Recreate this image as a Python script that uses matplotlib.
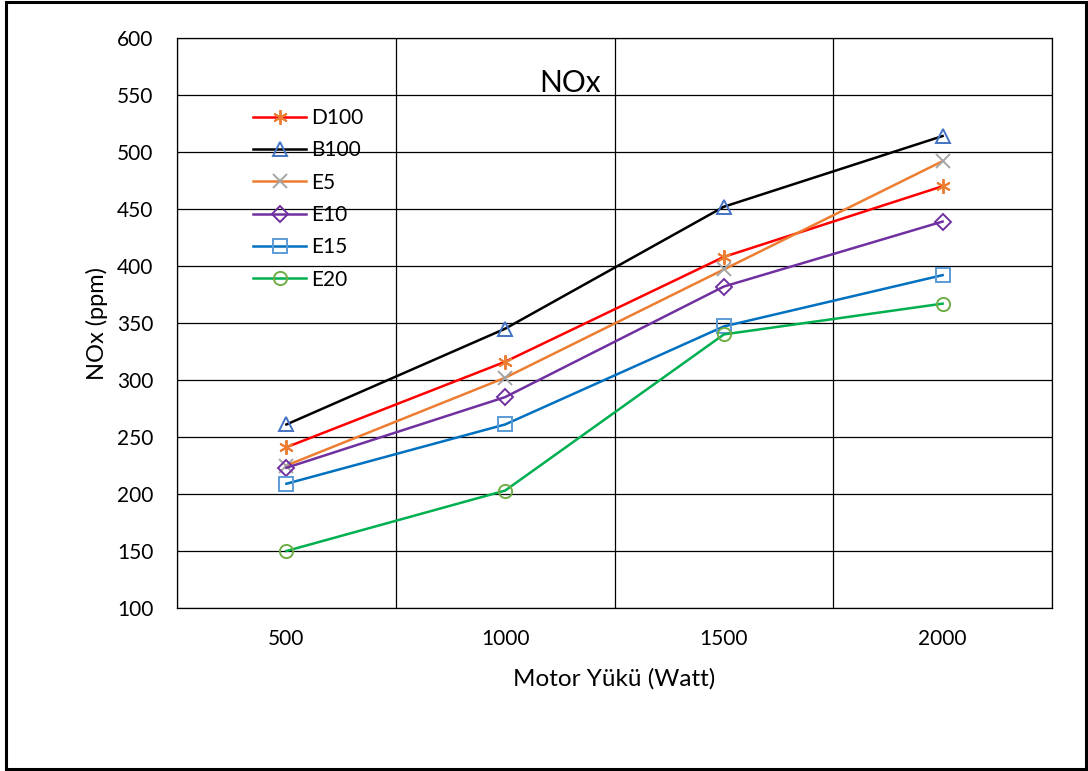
import matplotlib
matplotlib.use("Agg")
import matplotlib.pyplot as plt
from matplotlib.patches import Rectangle

plt.rcParams['font.family'] = ['Lato', 'DejaVu Sans']

loads = ["500", "1000", "1500", "2000"]
d100 = [241, 316, 408, 470]
b100 = [261, 345, 452, 514]
e5 = [225, 302, 397, 492]
e10 = [223, 285, 382, 439]
e15 = [209, 261, 347, 392]
e20 = [150, 203, 340, 367]
yticks = [100, 150, 200, 250, 300, 350, 400, 450, 500, 550, 600]

series = [
    ("D100", d100, "#FF0000", (6, 2, 0), "#ED7D31"),
    ("B100", b100, "#000000", "^", "#4472C4"),
    ("E5", e5, "#ED7D31", "x", "#A5A5A5"),
    ("E10", e10, "#7030A0", "D", "#7030A0"),
    ("E15", e15, "#0070C0", "s", "#5B9BD5"),
    ("E20", e20, "#00B050", "o", "#70AD47"),
]

fig = plt.figure(figsize=(10.88, 7.71), dpi=100)
ax = fig.add_axes([0.1627, 0.2114, 0.8042, 0.7393])

x = list(range(len(loads)))
for name, vals, lc, mk, mc in series:
    ms = 9.5
    if mk == "D":
        ms = 8
    if mk == "x" or mk == (6, 2, 0):
        ms = 10.5
    ax.plot(x, vals, color=lc, lw=1.8, marker=mk, markersize=ms,
            markerfacecolor="none", markeredgecolor=mc, markeredgewidth=1.4,
            label=name, zorder=3)

ax.set_xlim(-0.5, len(loads) - 0.5)
ax.set_ylim(100, 600)
ax.set_yticks(yticks)
ax.set_xticks(x)
ax.set_xticklabels(loads)
ax.set_xticks([i - 0.5 for i in range(len(loads) + 1)], minor=True)
ax.grid(True, axis="y", which="major", color="black", lw=0.9)
ax.grid(True, axis="x", which="minor", color="black", lw=0.9)
ax.set_axisbelow(True)
ax.tick_params(axis="both", which="both", length=0, labelsize=15, colors="black")
ax.tick_params(axis="y", pad=17)
ax.tick_params(axis="x", pad=15)
for s in ax.spines.values():
    s.set_color("black")
    s.set_linewidth(0.9)

ax.set_xlabel("Motor Yükü (Watt)", fontsize=17.5, va="center")
ax.xaxis.set_label_coords(0.5, -0.1246)
ax.set_ylabel("NOx (ppm)", fontsize=17, va="center")
ax.yaxis.set_label_coords(-0.0914, 0.5)

ax.text(0.449, 0.921, "NOx", transform=ax.transAxes, fontsize=21.5,
        ha="center", va="center")

leg = ax.legend(loc="upper left", bbox_to_anchor=(0.0869, 0.877), frameon=False,
                fontsize=15, handlelength=2.55, labelspacing=0.59,
                handletextpad=0.25, borderaxespad=0, borderpad=0)

fig.patches.append(Rectangle((0.0055, 0.003), 0.9925, 0.994, transform=fig.transFigure,
                             fill=False, edgecolor="black", lw=2.2))

fig.savefig("out.png", dpi=100, facecolor="white")
